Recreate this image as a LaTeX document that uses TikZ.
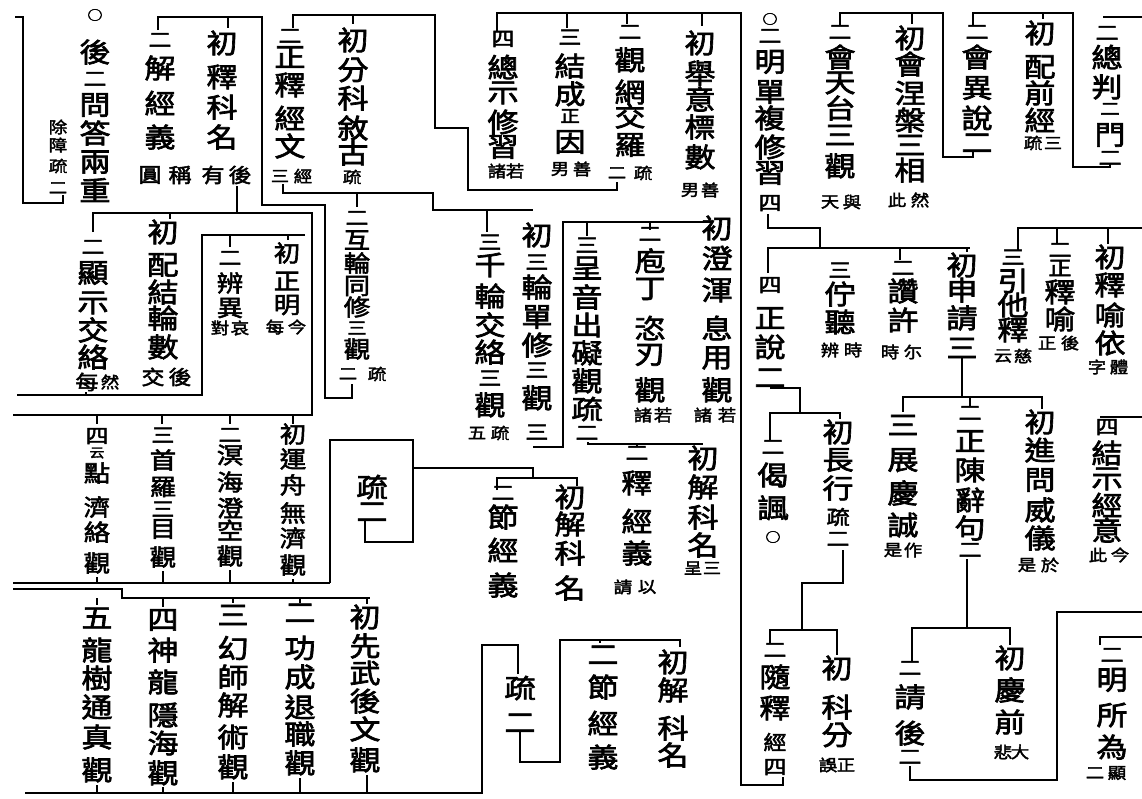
\documentclass[tikz,border=0pt]{standalone}
\usepackage{fontspec}
\newfontfamily\cjk[FakeStretch=1.15,FakeBold=2.5]{Noto Sans CJK TC}
\newcommand\cjks{\fontsize{13}{13}\selectfont}
\newcommand\cjkm{\fontsize{20}{20}\selectfont}
\newcommand\cjkn{\fontsize{17}{17}\selectfont}
\tikzset{
 ch/.style={font={\cjk\fontsize{27}{27}\selectfont}, inner sep=0pt, anchor=center},
 cs/.style={font={\cjk\fontsize{23}{23}\selectfont}},
 an/.style={font={\cjk\fontsize{16}{16}\selectfont}, inner sep=0pt},
 am/.style={font={\cjk\fontsize{20}{20}\selectfont}, inner sep=0pt},
 ln/.style={line width=2.2pt, line join=miter},
}
\newcommand\colm[4][]{\foreach \chr/\yy [count=\ii] in {#4} {\node[ch,#1] (#2-\ii) at (#3,\yy) {\chr};}}
\newcommand\annp[7][an]{\node[#1] (#2-l) at (#4,#3) {#5}; \node[#1] (#2-r) at (#6,#3) {#7};}
\begin{document}
\begin{tikzpicture}[x=1pt,y=-1pt]
\useasboundingbox (0,0) rectangle (1142,798);
\fill[white] (0,0) rectangle (1142,798);
% ---------- top left
\colm{a1}{95}{{\cjks ○}/15,後/52,{\cjkm 二}/79,問/105,答/133,兩/162,重/190}
\colm[an]{a1n}{58}{除/127,障/145,疏/166,二/188}
\colm{a2}{160}{{\cjkm 二}/40,解/68,經/103,義/137}
\annp[am]{a2a}{175}{150}{圓}{180}{稱}
\colm{a3}{222}{初/43,釋/77,科/107,名/137}
\annp[am]{a3a}{175}{213}{有}{240}{後}
\colm{a4}{290}{{\cjkm 二}/36,正/57,釋/85,經/118,文/146}
\annp{a4a}{176}{280}{三}{303}{經}
\colm{a5}{353}{初/40,分/70,科/98,敘/128,古/153}
\node[an] (a5a) at (352,177) {疏};
\colm{a6}{503}{{\cjkm 四}/39,總/67,示/93,修/122,習/147}
\annp{a6a}{171}{497}{諸}{515}{若}
\colm{a7}{570}{{\cjkm 三}/37,結/66,成/94,{\cjkn 正}/116,因/142}
\annp{a7a}{169}{560}{男}{582}{善}
\colm{a8}{630}{{\cjkm 二}/32,觀/60,網/92,交/116,羅/145}
\annp{a8a}{173}{617}{二}{643}{疏}
\colm{a9}{700}{初/43,舉/73,意/99,標/127,數/157}
\annp{a9a}{190}{690}{男}{710}{善}
% ---------- top right
\colm{b1}{770}{{\cjks ○}/19,{\cjkm 二}/36,明/62,單/92,複/118,修/147,習/173,{\cjkm 四}/203}
\colm{b2}{840}{{\cjkm 二}/32,會/57,天/83,台/108,三/135,觀/166}
\annp{b2a}{202}{830}{天}{852}{與}
\colm{b3}{910}{初/38,會/64,涅/93,槃/120,三/145,相/170}
\annp{b3a}{200}{897}{此}{920}{然}
\colm{b4}{977}{{\cjkm 二}/32,會/57,異/88,說/118,二/143}
\colm{b5}{1040}{初/33,配/67,前/93,經/120}
\annp{b5a}{143}{1033}{疏}{1053}{三}
\colm{b6}{1107}{{\cjkm 二}/33,總/57,判/87}
\colm{b6b}{1110}{{\cjkn 二}/109,門/135,{\cjkm 二}/158}
% ---------- second band right
\colm{c1}{770}{{\cjkm 四}/285,正/318,說/347,二/378}
\colm{c2}{840}{{\cjkm 三}/270,佇/294,聽/322}
\annp{c2a}{350}{830}{辨}{853}{時}
\colm{c3}{903}{{\cjkm 二}/268,讚/291,許/320}
\annp{c3a}{352}{890}{時}{913}{尓}
\colm{c4}{962}{初/265,申/290,請/318,三/348}
\colm{c5}{1013}{{\cjkm 三}/257,引/281,他/305,釋/330}
\annp{c5a}{356}{1003}{云}{1023}{慈}
\colm{c6}{1060}{{\cjkm 二}/250,{\cjkm 正}/268,釋/292,喻/319}
\annp{c6a}{343}{1047}{正}{1070}{後}
\colm{c7}{1110}{初/257,釋/285,喻/315,依/343}
\annp{c7a}{367}{1097}{字}{1119}{體}
% ---------- middle
\colm{d1}{490}{{\cjkm 三}/242,千/265,輪/296,交/325,絡/352,{\cjkm 三}/378,觀/405}
\annp{d1a}{433}{477}{五}{500}{疏}
\colm{d2}{537}{初/235,{\cjkm 三}/262,輪/287,單/317,修/345,{\cjkm 三}/370,觀/398}
\node[am] (d2a) at (537,432) {三};
\colm{d3}{587}{{\cjkm 三}/245,呈/268,音/297,出/325,礙/353,觀/381,疏/409,{\cjkm 二}/433}
\colm{d4}{650}{{\cjkm 二}/234,庖/261,丁/289,恣/328,刃/355,觀/390}
\annp{d4a}{415}{643}{諸}{663}{若}
\colm{d5}{717}{初/228,澄/258,渾/290,息/328,用/358,觀/390}
\annp{d5a}{415}{703}{諸}{727}{若}
\colm[cs]{d6}{357}{{\cjkm 二}/218,互/240,輪/263,同/286,修/307,{\cjkn 三}/328,觀/349}
\annp{d6a}{374}{348}{二}{377}{疏}
% ---------- left middle
\colm{e1}{93}{{\cjkm 二}/247,顯/273,示/303,交/330,絡/357}
\node[am] (e1a-l) at (87,382) {每};
\node[an] (e1a-r) at (110,382) {然};
\colm{e2}{163}{初/232,配/265,結/292,輪/318,數/347}
\annp[am]{e2a}{377}{153}{交}{180}{後}
\colm[cs]{e3}{230}{{\cjkm 二}/258,辨/283,異/308}
\annp{e3a}{328}{220}{對}{240}{哀}
\colm[cs]{e4}{287}{初/253,正/281,明/305}
\annp{e4a}{327}{275}{每}{297}{今}
% ---------- lower left
\colm[cs]{f1}{97}{{\cjkm 四}/436,{\cjks 云}/453,點/473,濟/507,絡/532,觀/563}
\colm[cs]{f2}{163}{{\cjkm 三}/435,首/460,羅/487,{\cjkm 三}/509,目/529,觀/557}
\colm[cs]{f3}{230}{{\cjkm 二}/435,溟/455,海/482,澄/508,空/530,觀/556}
\colm[cs]{f4}{293}{初/434,運/459,舟/485,無/513,濟/538,觀/565}
\colm{f5}{372}{疏/487,二/512}
\colm{g1}{503}{{\cjkm 二}/493,節/517,經/550,義/585}
\colm{g2}{570}{初/497,解/524,科/553,名/588}
\colm{g3}{637}{{\cjkm 二}/453,釋/483,經/521,義/553}
\annp{g3a}{587}{623}{請}{647}{以}
\colm{g4}{703}{初/458,解/487,科/517,名/545}
\annp{g4a}{568}{693}{呈}{712}{三}
% ---------- bottom left
\colm{h1}{97}{五/618,龍/650,樹/678,通/707,真/737,觀/770}
\colm{h2}{163}{四/620,神/650,龍/682,隱/715,海/743,觀/773}
\colm{h3}{233}{三/615,幻/648,師/677,解/705,術/737,觀/767}
\colm{h4}{300}{二/613,功/648,成/677,退/707,職/734,觀/763}
\colm{h5}{365}{初/617,先/646,武/673,後/701,文/729,觀/760}
% ---------- lower middle
\colm{i1}{520}{疏/688,二/723}
\colm{i2}{603}{二/655,節/687,經/723,義/757}
\colm{i3}{673}{初/662,解/690,科/728,名/755}
% ---------- lower right
\colm{j1}{773}{{\cjkm 二}/447,偈/475,諷/508,{\cjks ○}/537}
\colm{j2}{838}{初/432,長/460,行/488,{\cjkm 疏}/517,{\cjkm 二}/539}
\colm{j3}{775}{{\cjkm 二}/650,隨/677,釋/708,{\cjkm 經}/742,{\cjkm 四}/767}
\colm{j4}{837}{初/668,科/707,分/735}
\annp{j4a}{765}{828}{誤}{846}{正}
\colm{j5}{903}{三/425,展/460,慶/493,誠/525}
\annp{j5a}{550}{893}{是}{913}{作}
\colm{j6}{970}{{\cjkm 二}/413,正/441,陳/470,辭/500,句/528,{\cjkm 二}/550}
\colm{j7}{1040}{初/422,進/450,問/480,威/510,儀/538}
\annp{j7a}{565}{1027}{是}{1050}{於}
\colm{j8}{1107}{{\cjkm 四}/427,結/453,示/479,經/505,意/530}
\annp{j8a}{555}{1098}{此}{1120}{今}
\colm{j9}{910}{{\cjkm 二}/668,請/697,後/733,{\cjkm 二}/757}
\colm{j10}{1010}{初/658,慶/690,前/722}
\annp{j10a}{752}{1003}{悲}{1020}{大}
\colm{j11}{1112}{{\cjkm 二}/655,明/680,所/715,為/747}
\annp{j11a}{773}{1095}{二}{1117}{顯}
% ================= connectors
\draw[ln] (15,17) -- (23,17) -- (23,203) -- (63,203) -- (63,195);
\draw[ln] (158,30) -- (158,17) -- (262,17) -- (262,205) -- (325,205) -- (325,398) -- (352,398) -- (352,384);
\draw[ln] (228,17) -- (228,28);
\draw[ln] (237,186) -- (237,213);
\draw[ln] (93,232) -- (93,213) -- (312,213) -- (312,415) -- (13,415);
\draw[ln] (170,213) -- (170,219);
\foreach \x in {97,162,230,293} \draw[ln] (\x,415) -- (\x,424);
\draw[ln] (305,235) -- (202,235) -- (202,395) -- (17,395);
\draw[ln] (86,392) -- (86,395);
\draw[ln] (230,235) -- (230,247);
\draw[ln] (288,235) -- (288,240);
\draw[ln] (283,184) -- (283,193) -- (433,193) -- (433,210) -- (533,210);
\draw[ln] (357,193) -- (357,207);
\draw[ln] (487,210) -- (487,232);
\draw[ln] (293,28) -- (293,15) -- (435,15) -- (435,128) -- (468,128) -- (468,190) -- (617,190) -- (617,182);
\draw[ln] (353,15) -- (353,24);
\draw[ln] (497,31) -- (497,13) -- (741,13) -- (741,785) -- (783,785) -- (783,777);
\draw[ln] (567,13) -- (567,28);
\draw[ln] (627,13) -- (627,24);
\draw[ln] (702,13) -- (702,26);
\draw[ln] (533,447) -- (563,447) -- (563,222) -- (712,222);
\draw[ln] (587,222) -- (587,236);
\draw[ln] (650,222) -- (650,230);
\draw[ln] (588,442) -- (588,444) -- (703,444);
\draw[ln] (637,444) -- (637,447);
\draw[ln] (330,583) -- (330,440) -- (413,440) -- (413,542) -- (365,542) -- (365,519);
\draw[ln] (413,468) -- (533,468) -- (533,478);
\draw[ln] (497,490) -- (497,478) -- (577,478) -- (577,486);
\draw[ln] (13,583) -- (330,583);
\draw[ln] (97,577) -- (97,583);
\draw[ln] (163,571) -- (163,583);
\draw[ln] (230,570) -- (230,583);
\draw[ln] (293,579) -- (293,583);
\draw[ln] (13,589) -- (122,589) -- (122,598) -- (370,598);
\foreach \x/\y in {97/605,163/607,233/603,300/603,367/604} \draw[ln] (\x,598) -- (\x,\y);
\draw[ln] (25,793) -- (482,793) -- (482,645) -- (518,645) -- (518,674);
\foreach \x/\y in {97/785,163/787,233/782,300/778,367/775} \draw[ln] (\x,793) -- (\x,\y);
\draw[ln] (520,731) -- (520,762) -- (560,762) -- (560,640) -- (680,640) -- (680,647);
\draw[ln] (600,640) -- (600,643);
\draw[ln] (768,214) -- (768,228) -- (820,228) -- (820,248);
\draw[ln] (768,273) -- (768,248) -- (970,248);
\draw[ln] (900,248) -- (900,260);
\draw[ln] (967,248) -- (967,252);
\draw[ln] (840,26) -- (840,13) -- (943,13) -- (943,157) -- (973,157) -- (973,151);
\draw[ln] (912,13) -- (912,24);
\draw[ln] (973,26) -- (973,13) -- (1073,13) -- (1073,167) -- (1110,167) -- (1110,163);
\draw[ln] (1043,13) -- (1043,19);
\draw[ln] (1103,17) -- (1142,17);
\draw[ln] (962,358) -- (962,397);
\draw[ln] (903,412) -- (903,397) -- (1042,397) -- (1042,409);
\draw[ln] (970,397) -- (970,406);
\draw[ln] (1018,250) -- (1018,228) -- (1142,228);
\draw[ln] (1057,228) -- (1057,244);
\draw[ln] (1108,228) -- (1108,244);
\draw[ln] (770,388) -- (800,388) -- (800,413);
\draw[ln] (770,440) -- (770,413) -- (840,413) -- (840,419);
\draw[ln] (843,550) -- (843,583) -- (802,583) -- (802,630);
\draw[ln] (770,643) -- (770,630) -- (837,630) -- (837,655);
\draw[ln] (967,559) -- (967,628);
\draw[ln] (912,661) -- (912,628) -- (1010,628) -- (1010,645);
\draw[ln] (910,766) -- (910,780) -- (1057,780) -- (1057,612) -- (1142,612);
\draw[ln] (1100,645) -- (1100,637) -- (1142,637);
\draw[ln] (1100,417) -- (1142,417);
\end{tikzpicture}
\end{document}
